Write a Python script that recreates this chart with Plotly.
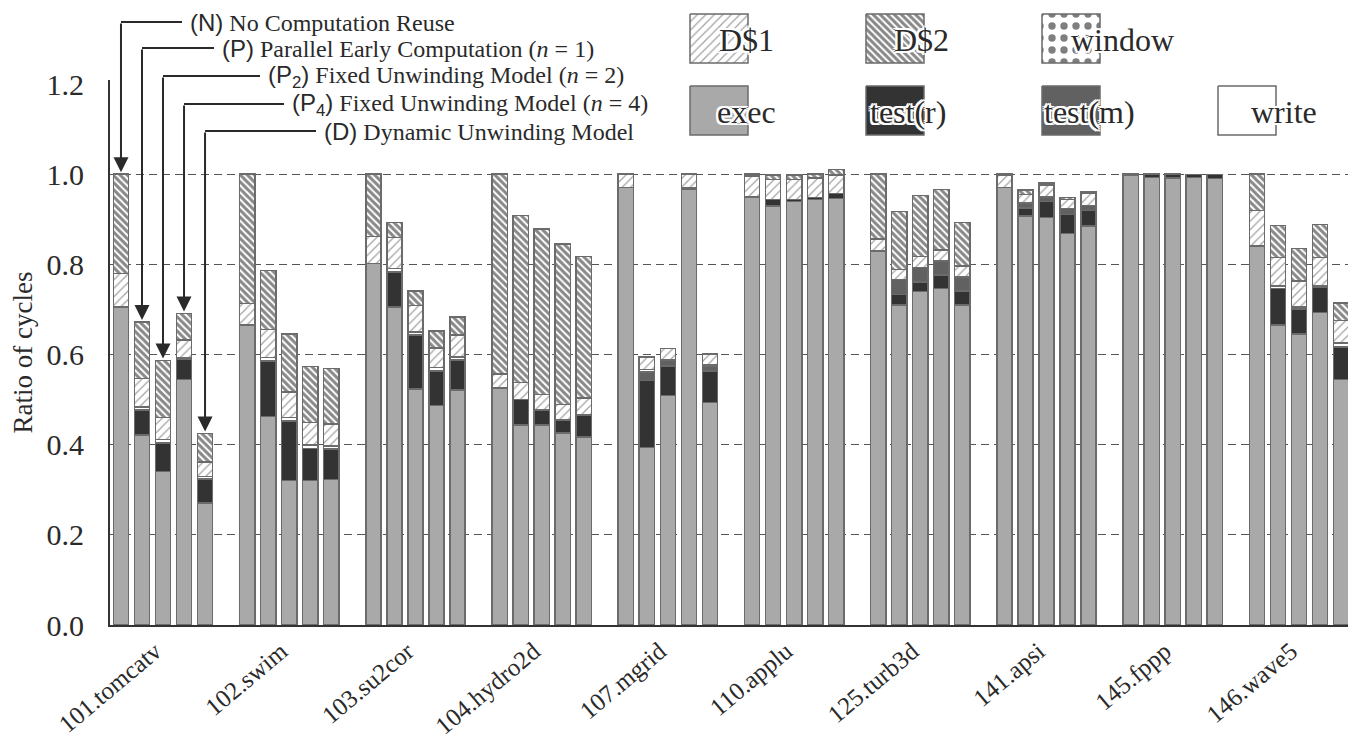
import plotly.graph_objects as go

# ---------------- data ----------------
benchmarks = ["101.tomcatv", "102.swim", "103.su2cor", "104.hydro2d", "107.mgrid",
              "110.applu", "125.turb3d", "141.apsi", "145.fppp", "146.wave5"]
models = ["N", "P", "P2", "P4", "D"]
model_labels = [
    "<span style='font-family:Liberation Sans'>(N)</span> No Computation Reuse",
    "<span style='font-family:Liberation Sans'>(P)</span> Parallel Early Computation (<i>n</i> = 1)",
    "<span style='font-family:Liberation Sans'>(P<sub>2</sub>)</span> Fixed Unwinding Model (<i>n</i> = 2)",
    "<span style='font-family:Liberation Sans'>(P<sub>4</sub>)</span> Fixed Unwinding Model (<i>n</i> = 4)",
    "<span style='font-family:Liberation Sans'>(D)</span> Dynamic Unwinding Model",
]

# each row: one benchmark, values for models N, P, P2, P4, D
exec_ = [[.705, .421, .341, .545, .271], [.665, .462, .321, .321, .323],
         [.802, .705, .523, .487, .521], [.526, .444, .444, .426, .417],
         [.970, .394, .509, .967, .494], [.950, .930, .939, .944, .946],
         [.830, .710, .740, .747, .710], [.970, .907, .904, .869, .885],
         [.997, .993, .992, .993, .990], [.841, .665, .645, .693, .545]]
test_r = [[0, .056, .063, .044, .053], [0, .124, .131, .071, .067],
          [0, .078, .120, .077, .067], [0, .056, .033, .029, .049],
          [0, .148, .066, .003, .070], [0, .014, .005, .004, .011],
          [0, .023, .021, .029, .031], [0, .018, .035, .042, .035],
          [0, .007, .008, .006, .009], [0, .082, .056, .056, .072]]
test_m = [[0, 0, 0, 0, 0], [0, 0, 0, 0, 0], [0, 0, 0, 0, 0], [0, 0, 0, 0, 0],
          [0, .019, .013, 0, .010], [0, 0, 0, 0, 0], [0, .034, .032, .031, .031],
          [0, .011, .011, .013, .011], [0, 0, 0, 0, 0], [0, 0, 0, 0, 0]]
write = [[0, .007, .008, .003, .005], [0, .007, .008, .007, .007],
         [0, .008, .007, .007, .007], [0, 0, 0, 0, 0], [0, .006, 0, 0, .003],
         [0, 0, 0, 0, 0], [0, 0, 0, 0, 0], [0, 0, 0, 0, 0], [0, 0, 0, 0, 0],
         [0, .005, .005, .003, .009]]
window = [[0, 0, 0, 0, 0] for _ in range(10)]
d1 = [[.075, .063, .048, .040, .033], [.048, .063, .057, .050, .049],
      [.060, .069, .059, .044, .048], [.031, .038, .034, .034, .038],
      [.030, .028, .025, .030, .024], [.046, .044, .044, .044, .041],
      [.026, .022, .024, .025, .024], [.027, .019, .026, .020, .026],
      [0, 0, 0, 0, 0], [.078, .063, .057, .063, .049]]
d2 = [[.220, .125, .127, .059, .063], [.287, .130, .129, .125, .123],
      [.138, .033, .032, .037, .040], [.443, .370, .368, .356, .313],
      [0, 0, 0, 0, 0], [.004, .010, .010, .009, .012],
      [.144, .128, .136, .134, .097], [.003, .010, .005, .004, .004],
      [.003, 0, 0, 0, 0], [.081, .071, .072, .074, .039]]

yticks = [0.0, 0.2, 0.4, 0.6, 0.8, 1.0, 1.2]

# ---------------- styles ----------------
OUT = "#6b6b6b"
INK = "#2a2a2a"
SERIF = "Liberation Serif"
styles = {
    "exec": dict(color="#a9a9a9"),
    "test(r)": dict(color="#333333"),
    "test(m)": dict(color="#616161"),
    "write": dict(color="white"),
    "window": dict(color="white", pattern=dict(shape=".", size=12, solidity=0.3,
                                               fgcolor="#000", bgcolor="white")),
    "D$1": dict(color="white", pattern=dict(shape="/", size=6, solidity=0.2,
                                            fgcolor="#444", bgcolor="white")),
    "D$2": dict(color="white", pattern=dict(shape="\\", size=5, solidity=0.6,
                                            fgcolor="#111", bgcolor="white")),
}
series = [("exec", exec_), ("test(r)", test_r), ("test(m)", test_m), ("write", write),
          ("window", window), ("D$1", d1), ("D$2", d2)]

spacing = 0.1665
bar_w = 0.121
xr = [-0.42, 9.42]
yr = [0, 1.209]

# page geometry (the figure is drawn 8px in from the page corner)
PAGE_OFF = 8
PLOT_L, PLOT_R, PLOT_T, PLOT_B = 110, 1352, 80, 625
FIG_W, FIG_H = 1356 - PAGE_OFF, 740 - PAGE_OFF
ydom_top = (PLOT_B - PLOT_T) / (PLOT_B - PAGE_OFF)

xpos = [[g + (m - 2) * spacing for m in range(len(models))] for g in range(len(benchmarks))]
flat_x = [x for row in xpos for x in row]

fig = go.Figure()
for name, vals in series:
    st = styles[name]
    flat_y = [v if v > 0 else None for row in vals for v in row]
    marker = dict(color=st["color"], line=dict(color=OUT, width=1.5))
    if "pattern" in st:
        marker["pattern"] = st["pattern"]
    fig.add_trace(go.Bar(x=flat_x, y=flat_y, width=bar_w, name=name, marker=marker,
                         showlegend=False, hoverinfo="skip"))

# helpers (overlay axes x2/y2 use page pixels as units)
def x2px(x):
    return PLOT_L + (x - xr[0]) / (xr[1] - xr[0]) * (PLOT_R - PLOT_L)

def y2py(y):
    return PLOT_B - y / yr[1] * (PLOT_B - PLOT_T)

# ---------------- custom legend ----------------
legend_rows = [["D$1", "D$2", "window"], ["exec", "test(r)", "test(m)", "write"]]
col_left = [690, 866, 1042, 1218]
row_box = [(14, 63), (86, 135)]
box_w = 58
text_off = {"D$1": 27, "D$2": 26, "window": 27, "exec": 25, "test(r)": 2,
            "test(m)": 0, "write": 31}
halo = ",".join(f"{a}px {b}px 0 white" for a in (-2, 0, 2) for b in (-2, 0, 2) if (a, b) != (0, 0))
annotations = []
for r, row in enumerate(legend_rows):
    y0, y1 = row_box[r]
    for c, name in enumerate(row):
        x0 = col_left[c]
        x1 = x0 + box_w
        st = styles[name]
        kw = dict(fillcolor=st["color"])
        if "pattern" in st:
            kw["fillpattern"] = dict(st["pattern"])
        fig.add_trace(go.Scatter(x=[x0, x1, x1, x0, x0], y=[y0, y0, y1, y1, y0],
                                 fill="toself", mode="lines",
                                 line=dict(color=OUT, width=1.5), xaxis="x2", yaxis="y2",
                                 showlegend=False, hoverinfo="skip", **kw))
        annotations.append(dict(x=x0 + text_off[name], y=(y0 + y1) / 2 + 1, xref="x2", yref="y2",
                                text=name, showarrow=False, xanchor="left", yanchor="middle",
                                font=dict(family=SERIF, size=32, color=INK, shadow=halo)))

# ---------------- model call-outs ----------------
row_py = [22, 48, 76, 104, 131]
text_px = [188, 220, 266, 290, 322]
shapes = []
for m in range(len(models)):
    bx = xpos[0][m]
    top = sum(s[1][0][m] for s in series)
    bpx = x2px(bx)
    shapes.append(dict(type="line", xref="x2", yref="y2", x0=bpx, x1=text_px[m] - 6,
                       y0=row_py[m], y1=row_py[m], line=dict(color=INK, width=2)))
    annotations.append(dict(x=bpx, y=y2py(top), xref="x2", yref="y2", ax=bpx, ay=row_py[m],
                            axref="x2", ayref="y2", text="", showarrow=True,
                            arrowhead=2, arrowsize=1.5, arrowwidth=2, arrowcolor=INK,
                            standoff=2))
    annotations.append(dict(x=text_px[m], y=row_py[m], xref="x2", yref="y2",
                            text=model_labels[m], showarrow=False, xanchor="left",
                            yanchor="middle", font=dict(family=SERIF, size=24, color=INK)))

fig.update_layout(
    width=FIG_W, height=FIG_H,
    margin=dict(l=PLOT_L - PAGE_OFF, r=FIG_W - (PLOT_R - PAGE_OFF), t=0,
                b=FIG_H - (PLOT_B - PAGE_OFF), autoexpand=False),
    paper_bgcolor="white", plot_bgcolor="rgba(0,0,0,0)",
    barmode="stack",
    showlegend=False,
    shapes=shapes,
    annotations=annotations,
    xaxis=dict(domain=[0, 1], range=xr, tickmode="array", tickvals=list(range(len(benchmarks))),
               ticktext=benchmarks, tickangle=-40, automargin=False,
               tickfont=dict(family=SERIF, size=25, color=INK),
               showline=True, linecolor="#333", linewidth=2, showgrid=False,
               zeroline=False, ticks="", ticklabelshift=-8),
    yaxis=dict(domain=[0, ydom_top], range=yr, tickmode="array", tickvals=yticks,
               ticktext=[f"{v:.1f}" for v in yticks], automargin=False,
               tickfont=dict(family=SERIF, size=30, color=INK),
               ticks="outside", ticklen=18, tickcolor="rgba(0,0,0,0)",
               showline=True, linecolor="#333", linewidth=2, showgrid=False, zeroline=False,
               minor=dict(tickmode="array", tickvals=[0.2, 0.4, 0.6, 0.8, 1.0],
                          showgrid=True, gridcolor="#555", griddash="8px,5px",
                          gridwidth=1, ticks=""),
               title=dict(text="Ratio of cycles", font=dict(family=SERIF, size=27, color=INK),
                          standoff=12)),
    xaxis2=dict(domain=[0, 1], range=[PLOT_L, PLOT_R], visible=False, anchor="y2",
                fixedrange=True),
    yaxis2=dict(domain=[0, 1], range=[PLOT_B, PAGE_OFF], visible=False, anchor="x2",
                fixedrange=True),
)

fig.write_html("out.html")
